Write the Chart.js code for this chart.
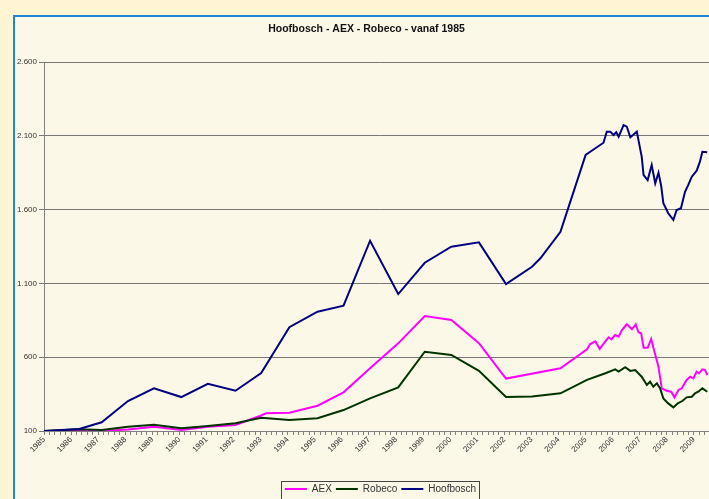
<!DOCTYPE html>
<html>
<head>
<meta charset="utf-8">
<title>Hoofbosch - AEX - Robeco - vanaf 1985</title>
<script src="https://cdn.jsdelivr.net/npm/chart.js@4.4.1/dist/chart.umd.min.js"></script>
<style>
  html, body { margin: 0; padding: 0; }
  body { width: 709px; height: 499px; overflow: hidden; position: relative; background: #fff4d4; }
  #frame { position: absolute; left: 13px; top: 15px; width: 720px; height: 500px; border: 2px solid #1c86d6; background: #fcf8e8; }
  #chart { position: absolute; left: 16px; top: 17px; }
</style>
</head>
<body>
<div id="frame"></div>
<canvas id="chart" width="701" height="487"></canvas>
<script>
const TITLE = "Hoofbosch - AEX - Robeco - vanaf 1985";

const yearLabels = ["1985", "1986", "1987", "1988", "1989", "1990", "1991", "1992", "1993",
  "1994", "1995", "1996", "1997", "1998", "1999", "2000", "2001", "2002", "2003", "2004",
  "2005", "2006", "2007", "2008", "2009"];
const yTicks = [100, 600, 1100, 1600, 2100, 2600];
const yTickLabels = ["100", "600", "1.100", "1.600", "2.100", "2.600"];

// AEX
const aexYears = [1985.00, 1986.30, 1987.13, 1988.10, 1989.06, 1990.07, 1991.05, 1992.07, 1993.02, 1993.20,
  1994.06, 1995.10, 1996.06, 1997.04, 1998.08, 1999.06, 2000.04, 2001.06, 2002.06, 2004.07,
  2005.05, 2005.17, 2005.36, 2005.52, 2005.70, 2005.85, 2005.95, 2006.09, 2006.22, 2006.34,
  2006.52, 2006.71, 2006.85, 2006.95, 2007.05, 2007.14, 2007.29, 2007.42, 2007.54, 2007.69,
  2007.81, 2007.99, 2008.16, 2008.28, 2008.43, 2008.55, 2008.73, 2008.86, 2008.98, 2009.10,
  2009.19, 2009.31, 2009.41, 2009.49];
const aexValues = [100, 104, 100, 110, 129, 107, 129, 141, 205, 220,
  224, 271, 362, 525, 694, 879, 852, 695, 455, 525,
  653, 689, 707, 656, 700, 735, 721, 750, 739, 784,
  823, 789, 823, 769, 762, 664, 664, 723, 637, 536,
  389, 373, 366, 328, 378, 389, 446, 468, 457, 502,
  491, 518, 513, 479];

// Robeco
const robecoYears = [1985.00, 1986.30, 1987.13, 1988.10, 1989.06, 1990.07, 1991.05, 1992.07, 1993.02, 1994.06,
  1995.10, 1996.06, 1997.04, 1998.08, 1999.06, 2000.04, 2001.06, 2002.06, 2003.02, 2004.07,
  2005.05, 2005.73, 2006.09, 2006.22, 2006.46, 2006.65, 2006.83, 2007.07, 2007.26, 2007.38,
  2007.50, 2007.63, 2007.75, 2007.87, 2008.05, 2008.24, 2008.40, 2008.57, 2008.73, 2008.92,
  2009.04, 2009.16, 2009.31, 2009.49];
const robecoValues = [100, 112, 107, 129, 143, 118, 134, 152, 190, 175,
  186, 242, 321, 396, 637, 615, 508, 330, 333, 355,
  446, 491, 518, 502, 532, 507, 513, 468, 412, 434,
  400, 423, 389, 321, 287, 260, 287, 303, 328, 332,
  355, 366, 389, 366];

// Hoofbosch
const hoofboschYears = [1985.00, 1986.30, 1987.13, 1988.10, 1989.06, 1990.07, 1991.05, 1992.07, 1993.02, 1994.06,
  1995.10, 1996.06, 1997.04, 1998.08, 1999.06, 2000.04, 2001.06, 2002.06, 2003.02, 2003.33,
  2004.07, 2005.00, 2005.17, 2005.66, 2005.78, 2005.91, 2006.03, 2006.13, 2006.22, 2006.40,
  2006.52, 2006.65, 2006.89, 2007.01, 2007.07, 2007.14, 2007.29, 2007.44, 2007.57, 2007.69,
  2007.79, 2007.87, 2008.05, 2008.24, 2008.36, 2008.52, 2008.67, 2008.79, 2008.92, 2009.10,
  2009.22, 2009.31, 2009.49];
const hoofboschValues = [100, 114, 159, 303, 389, 330, 420, 373, 493, 803,
  908, 949, 1389, 1028, 1240, 1349, 1378, 1096, 1213, 1270,
  1450, 1970, 1992, 2053, 2128, 2128, 2105, 2124, 2094, 2173,
  2162, 2090, 2128, 2015, 1959, 1834, 1800, 1902, 1778, 1850,
  1760, 1643, 1575, 1530, 1597, 1609, 1721, 1767, 1823, 1864,
  1925, 1992, 1988];

const toPoints = (xs, ys) => xs.map((x, i) => ({ x, y: ys[i] }));

Chart.defaults.font.family = '"Liberation Sans", Arial, sans-serif';

// box around the legend, legend shifted a bit to the right like the original
const LEGEND_SHIFT = 14;
const legendFrame = {
  id: "legendFrame",
  afterLayout(chart) {
    const lg = chart.legend;
    lg.left += LEGEND_SHIFT * 2;
    lg.legendHitBoxes.forEach((hb) => { hb.left += LEGEND_SHIFT; });
  },
  afterDraw(chart) {
    const boxes = chart.legend.legendHitBoxes;
    if (!boxes || !boxes.length) return;
    const first = boxes[0];
    const last = boxes[boxes.length - 1];
    const l = Math.round(first.left - 4) + 0.5;
    const t = Math.round(first.top - 3) + 0.5;
    const r = Math.round(last.left + last.width + 3) + 0.5;
    const ctx = chart.ctx;
    ctx.save();
    ctx.strokeStyle = "#444";
    ctx.lineWidth = 1;
    ctx.strokeRect(l, t, r - l, 40);
    ctx.restore();
  },
};

new Chart(document.getElementById("chart"), {
  type: "line",
  data: {
    datasets: [
      { label: "AEX", data: toPoints(aexYears, aexValues), borderColor: "#ff00ff", backgroundColor: "#ff00ff", order: 3 },
      { label: "Robeco", data: toPoints(robecoYears, robecoValues), borderColor: "#003300", backgroundColor: "#003300", order: 2 },
      { label: "Hoofbosch", data: toPoints(hoofboschYears, hoofboschValues), borderColor: "#000080", backgroundColor: "#000080", order: 1 },
    ],
  },
  options: {
    responsive: false,
    animation: false,
    layout: { padding: 0 },
    elements: {
      line: { borderWidth: 2, tension: 0 },
      point: { radius: 0 },
    },
    plugins: {
      title: {
        display: true,
        text: TITLE,
        color: "#111",
        font: { size: 10.5, weight: "bold" },
        padding: { top: 6, bottom: 26.4 },
      },
      legend: {
        position: "bottom",
        labels: {
          boxWidth: 22,
          boxHeight: 2,
          padding: 4,
          color: "#333",
          font: { size: 10 },
          generateLabels: (chart) =>
            chart.data.datasets.map((ds, i) => ({
              text: ds.label,
              fillStyle: ds.borderColor,
              strokeStyle: ds.borderColor,
              lineWidth: 0,
              hidden: false,
              datasetIndex: i,
              fontColor: "#333",
            })),
        },
      },
      tooltip: { enabled: false },
    },
    scales: {
      x: {
        type: "linear",
        min: 1985,
        max: 2009.79,
        afterBuildTicks: (axis) => {
          const ticks = [];
          for (let i = 0; i <= 123; i++) ticks.push({ value: 1985 + i / 5 });
          axis.ticks = ticks;
        },
        afterFit: (axis) => { axis.height = 49; },
        ticks: {
          autoSkip: false,
          minRotation: 45,
          maxRotation: 45,
          padding: 0,
          color: "#333",
          font: { size: 8 },
          callback: (v) => {
            const r = Math.round(v);
            return Math.abs(v - r) < 1e-6 ? (yearLabels[r - 1985] || "") : "";
          },
        },
        grid: { drawOnChartArea: false, tickLength: 4, color: "#808080" },
        border: { color: "#808080" },
      },
      y: {
        min: 100,
        max: 2600,
        afterBuildTicks: (axis) => {
          axis.ticks = yTicks.map((value) => ({ value }));
        },
        afterFit: (axis) => { axis.width = 28; },
        ticks: {
          padding: 2,
          color: "#333",
          font: { size: 8 },
          callback: (v) => yTickLabels[yTicks.indexOf(v)],
        },
        grid: { color: "#777", tickLength: 5 },
        border: { color: "#808080" },
      },
    },
  },
  plugins: [legendFrame],
});
</script>
</body>
</html>
